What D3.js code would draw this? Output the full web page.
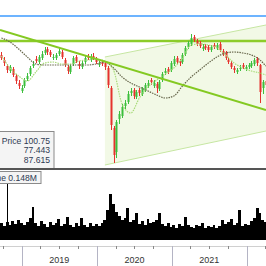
<!DOCTYPE html>
<html>
<head>
<meta charset="utf-8">
<script src="https://cdn.jsdelivr.net/npm/d3@7"></script>
<style>
  body { margin: 0; background: #fff; }
  svg { display: block; }
</style>
</head>
<body>
<div id="chart"></div>
<script>
// candles: one every two weeks
var startDate = new Date(2018, 8, 23);
var stepDays = 14;

var opens = [82.5, 80, 77, 74.5, 75.5, 72, 68.5, 64.5, 67, 70.5, 73, 77, 80.5, 79, 81, 83.5, 85.5, 84, 81, 81,
  83, 84, 80, 76.5, 74, 78, 81.5, 78, 76.5, 79, 82, 80, 82, 80.5, 77.5, 79, 78.5, 76, 66, 46,
  34, 50.5, 52, 57, 59, 63.5, 65, 61.5, 65, 63, 65, 67, 70, 67, 68, 65.5, 70, 73.5, 75.5, 75,
  78, 81, 79.5, 79, 83, 86.5, 88, 91.5, 89.5, 88.5, 85.5, 87, 86.5, 85, 87.5, 86, 88, 84.5, 83.5, 80,
  78.5, 76, 74, 75.5, 77.5, 75.5, 76.5, 77, 78, 80.5, 77.5, 66, 69.5];
var highs = [84, 81.5, 78, 77.5, 76.5, 73, 70, 67.5, 71, 73.5, 77, 79.5, 82, 82.5, 84.5, 86.5, 86.5, 85, 83, 83.5,
  86, 85, 81, 77.5, 78, 82, 82.5, 79.5, 79.5, 82, 83, 83, 83.5, 81.5, 79.5, 80, 79.5, 77, 67, 47,
  50, 54.5, 58, 60, 64.5, 66, 66, 65, 66, 66.5, 68.5, 70, 71, 70, 69, 70, 74, 76, 76.5, 79.5,
  82, 82, 80.5, 83.5, 87, 89.5, 93, 92.5, 90.5, 89.5, 88, 88, 87.5, 87.5, 88.5, 88.5, 89, 85.5, 84.5, 81,
  79.5, 77, 76, 77.5, 78.5, 77.5, 78.5, 79.5, 81, 81.5, 78, 70, 71];
var lows = [80, 77, 73.5, 73.5, 71.5, 68, 65.5, 63.5, 66, 69.5, 72, 76, 78.5, 78, 80, 82.5, 82.5, 81.5, 80, 80,
  82, 80.5, 76.5, 73, 73, 77, 78.5, 75.5, 75.5, 78, 80, 79, 80, 78, 76.5, 77, 75, 66, 45, 28.5,
  31, 48, 51, 55.5, 58, 62, 60.5, 60.5, 62, 62, 64, 66, 67.5, 66, 63.5, 64.5, 69, 72.5, 73, 74,
  77, 78, 77, 78, 82, 85.5, 87, 89, 87, 86, 84.5, 85, 84, 84, 85.5, 85, 84, 82, 80, 78,
  75.5, 73.5, 73, 74.5, 75.5, 74.5, 75.5, 76, 77, 77, 58.5, 63, 66];
var closes = [81, 78.5, 75, 76.5, 72.5, 69.5, 67, 66, 70, 72, 76, 78, 79.5, 81.5, 83, 85, 84, 82.5, 81.5, 82.5,
  84.5, 81.5, 77.5, 74.5, 77, 81, 79.5, 77, 78.5, 81, 81, 81.5, 81, 79, 78, 78, 76.5, 67.5, 47.5, 32.5,
  49, 53, 56.5, 58.5, 63, 64.5, 62, 64, 63.5, 65.5, 67.5, 68.5, 69, 68.5, 66, 69, 73, 74.5, 74, 78.5,
  80.5, 79, 78.5, 82.5, 86, 88.5, 91, 90, 88, 87, 86.5, 86, 85, 86.5, 86.5, 87.5, 85, 83, 81, 79,
  76.5, 75, 75, 76, 76.5, 76.5, 77.5, 78.5, 80, 78.5, 64, 69, 67.5];
// volume in thousands
var volumes = [121, 100, 129, 107, 136, 114, 143, 121, 107, 129, 157, 236, 121, 100, 136, 114, 93, 129, 107, 121,
  150, 100, 114, 164, 107, 93, 121, 100, 157, 107, 93, 121, 100, 114, 100, 121, 143, 214, 336, 264,
  200, 171, 143, 157, 229, 129, 143, 193, 114, 136, 107, 150, 121, 129, 143, 193, 114, 100, 121, 93,
  107, 86, 114, 100, 164, 107, 93, 86, 107, 100, 121, 86, 100, 93, 107, 86, 100, 143, 114, 129,
  150, 107, 121, 214, 100, 114, 107, 136, 157, 229, 193, 143, 129];

// moving averages, every third candle
var maEvery = 3;
var maLong = [91, 89, 85.5, 81.5, 78, 77.5, 77.5, 77.5, 77.5, 77.5, 77.5, 78, 79, 76, 71.5, 68.5,
  66.5, 64.5, 62.5, 61, 62, 67, 71.5, 75, 78.5, 81.5, 83.5, 84, 83.5, 82.5, 80, 77];
var maShort = [82, 76, 72, 69.5, 74, 78.5, 79, 78, 78, 79.5, 80, 80.5, 79.5, 75, 58, 53.5,
  61, 66.5, 70, 73, 76, 81, 87.5, 88, 87.5, 86, 82.5, 78.5, 76, 74.5, 73.5, 72.5];

// drawn objects
var blueLevel = 102;
var greenLevel = 89.5;
var trendLine = [[new Date(2018, 8, 16), 95], [new Date(2022, 3, 4), 55]];
var channelTop = [[new Date(2020, 1, 9), 81.5], [new Date(2022, 3, 4), 97.5]];
var channelBottom = [[new Date(2020, 1, 9), 27.5], [new Date(2022, 3, 4), 44.5]];

var yearLabels = ["2019", "2020", "2021"];
var tipLines = ["Price 100.75", "77.443", "87.615"];
var volTip = "Volume 0.148M";

var width = 266, height = 266;
var priceBottom = 168, volTop = 171, volBottom = 240, axisY = 246;

var svg = d3.select("#chart").append("svg")
  .attr("width", width)
  .attr("height", height)
  .style("font-family", "'Liberation Sans', Arial, sans-serif");

var dates = closes.map(function(d, i) { return d3.timeDay.offset(startDate, i * stepDays); });

var x = d3.scaleTime()
  .domain([new Date(2018, 8, 16), new Date(2022, 3, 4)])
  .range([0, width]);
var y = d3.scaleLinear().domain([26, 110]).range([priceBottom, 0]);
var yv = d3.scaleLinear().domain([0, 500]).range([volBottom, volTop]);

svg.append("clipPath").attr("id", "pclip").append("rect")
  .attr("x", 0).attr("y", 0).attr("width", width).attr("height", priceBottom);

var price = svg.append("g").attr("clip-path", "url(#pclip)");

// channel
var chPoly = channelTop.concat(channelBottom.slice().reverse());
price.append("path")
  .attr("d", d3.line().x(function(d) { return x(d[0]); }).y(function(d) { return y(d[1]); })(chPoly) + "Z")
  .attr("fill", "#f2f9e6");
[channelTop, channelBottom].forEach(function(seg) {
  price.append("line")
    .attr("x1", x(seg[0][0])).attr("y1", y(seg[0][1]))
    .attr("x2", x(seg[1][0])).attr("y2", y(seg[1][1]))
    .attr("stroke", "#c6e6a2").attr("stroke-width", 1);
});

// horizontal levels
price.append("line")
  .attr("x1", 0).attr("x2", width).attr("y1", y(blueLevel)).attr("y2", y(blueLevel))
  .attr("stroke", "#3d9bff").attr("stroke-width", 1.5);
price.append("line")
  .attr("x1", 0).attr("x2", width).attr("y1", y(greenLevel)).attr("y2", y(greenLevel))
  .attr("stroke", "#8ccc2a").attr("stroke-width", 2.5);

// candles
var candles = price.append("g").selectAll("g").data(closes).join("g");
candles.append("line")
  .attr("x1", function(d, i) { return Math.round(x(dates[i])) + 0.5; })
  .attr("x2", function(d, i) { return Math.round(x(dates[i])) + 0.5; })
  .attr("y1", function(d, i) { return y(highs[i]); })
  .attr("y2", function(d, i) { return y(lows[i]); })
  .attr("stroke", function(d, i) { return d >= opens[i] ? "#3cbf3c" : "#e5322d"; })
  .attr("stroke-width", 1);
candles.append("rect")
  .attr("x", function(d, i) { return Math.round(x(dates[i])) - 0.5; })
  .attr("width", 2)
  .attr("y", function(d, i) { return y(Math.max(d, opens[i])); })
  .attr("height", function(d, i) { return Math.max(1, Math.abs(y(d) - y(opens[i]))); })
  .attr("fill", function(d, i) { return d >= opens[i] ? "#3cbf3c" : "#e5322d"; });

// moving averages
var maLine = d3.line()
  .x(function(d, i) { return x(dates[Math.min(i * maEvery, dates.length - 1)]); })
  .y(function(d) { return y(d); })
  .curve(d3.curveMonotoneX);
price.append("path").attr("d", maLine(maLong))
  .attr("fill", "none").attr("stroke", "#66664a").attr("stroke-width", 1.2)
  .attr("stroke-dasharray", "1.5,1");
price.append("path").attr("d", maLine(maShort))
  .attr("fill", "none").attr("stroke", "#a9db7a").attr("stroke-width", 1.2)
  .attr("stroke-dasharray", "1.5,1");

// trend line
price.append("line")
  .attr("x1", x(trendLine[0][0])).attr("y1", y(trendLine[0][1]))
  .attr("x2", x(trendLine[1][0])).attr("y2", y(trendLine[1][1]))
  .attr("stroke", "#84c922").attr("stroke-width", 2);

// price tooltip
var tip = svg.append("g");
tip.append("rect")
  .attr("x", -2).attr("y", 131.5).attr("width", 56).attr("height", 38)
  .attr("fill", "#f4f4f4").attr("stroke", "#8a8a8a");
tip.selectAll("text").data(tipLines).join("text")
  .attr("x", 50)
  .attr("y", function(d, i) { return 144 + i * 9.3; })
  .attr("text-anchor", "end")
  .attr("font-size", 8.6)
  .attr("fill", "#2e3a52")
  .text(function(d) { return d; });

// pane separator
svg.append("line").attr("x1", 0).attr("x2", width).attr("y1", priceBottom + 1).attr("y2", priceBottom + 1)
  .attr("stroke", "#555").attr("stroke-width", 2);

// volume
svg.append("g").attr("shape-rendering", "crispEdges")
  .selectAll("rect").data(volumes).join("rect")
  .attr("x", function(d, i) { return Math.round(x(dates[i]) - 1.45); })
  .attr("width", function(d, i) {
    var next = i < dates.length - 1 ? x(dates[i + 1]) - 1.45 : width;
    return Math.round(next) - Math.round(x(dates[i]) - 1.45);
  })
  .attr("y", function(d) { return Math.round(yv(d)); })
  .attr("height", function(d) { return volBottom - Math.round(yv(d)); })
  .attr("fill", "#000");

svg.append("line").attr("x1", 7.5).attr("x2", 7.5).attr("y1", 184).attr("y2", 229)
  .attr("stroke", "#000");
var vtip = svg.append("g");
vtip.append("rect")
  .attr("x", -30).attr("y", 171.5).attr("width", 71).attr("height", 12)
  .attr("fill", "#f4f4f4").attr("stroke", "#8a8a8a");
vtip.append("text")
  .attr("x", 37).attr("y", 180.5)
  .attr("text-anchor", "end")
  .attr("font-size", 8.6)
  .attr("fill", "#2e3a52")
  .text(volTip);

// time axis
svg.append("line").attr("x1", 0).attr("x2", width).attr("y1", axisY + 0.5).attr("y2", axisY + 0.5)
  .attr("stroke", "#d0d0d0");
var axis = svg.append("g");
axis.selectAll("line.q").data(x.ticks(d3.timeMonth.every(3))).join("line")
  .attr("class", "q")
  .attr("x1", function(d) { return Math.round(x(d)) + 0.5; })
  .attr("x2", function(d) { return Math.round(x(d)) + 0.5; })
  .attr("y1", axisY).attr("y2", function(d) { return d.getMonth() === 0 ? height : axisY + 3; })
  .attr("stroke", function(d) { return d.getMonth() === 0 ? "#b4b4c4" : "#888"; });
axis.selectAll("text").data(yearLabels).join("text")
  .attr("x", function(d) { return x(new Date(+d, 6, 2)); })
  .attr("y", 263)
  .attr("text-anchor", "middle")
  .attr("font-size", 9)
  .attr("fill", "#333")
  .text(function(d) { return d; });
</script>
</body>
</html>
